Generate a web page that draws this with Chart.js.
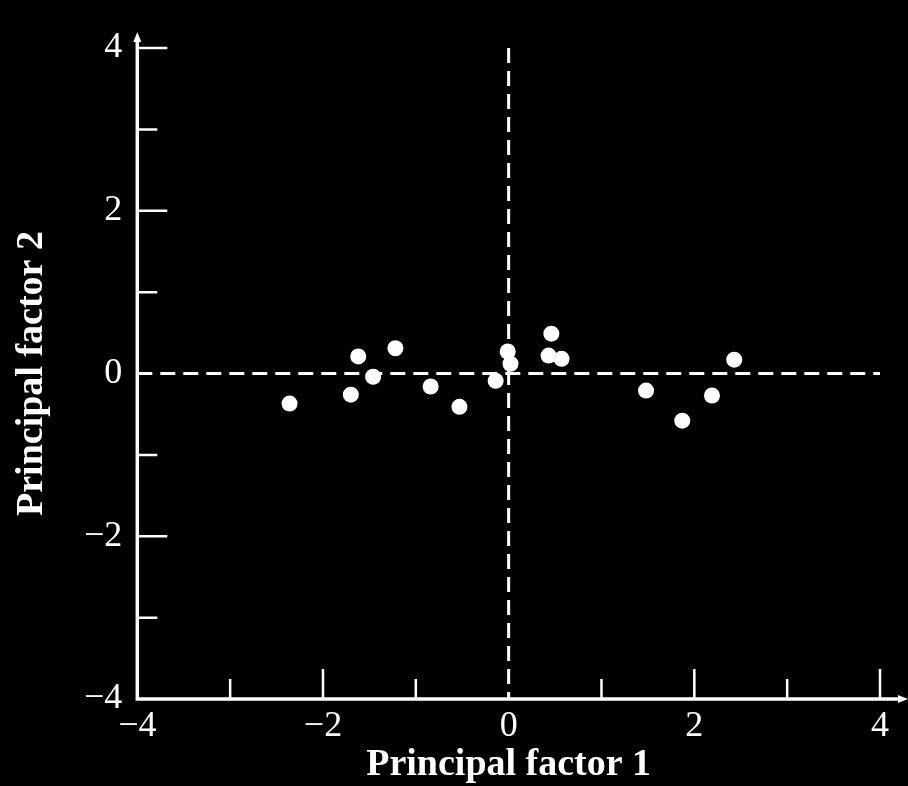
<!doctype html>
<html lang="en">
  <head>
    <meta charset="utf-8">
    <title>Principal factor plot</title>
    <style>
      * { margin: 0; padding: 0; }
      body { background: #000; }
      .chartBox { width: 908px; height: 786px; }
    </style>
  </head>
  <body>
    <div class="chartBox">
      <canvas id="myChart"></canvas>
    </div>

    <script src="https://cdn.jsdelivr.net/npm/chart.js"></script>
    <script>
    // data
    const factor1 = [-2.36, -1.70, -1.62, -1.46, -1.22, -0.84, -0.53, -0.14, -0.01, 0.02, 0.46, 0.43, 0.57, 1.48, 1.87, 2.19, 2.43];
    const factor2 = [-0.37, -0.26, 0.21, -0.04, 0.31, -0.16, -0.41, -0.09, 0.27, 0.12, 0.49, 0.22, 0.18, -0.21, -0.58, -0.27, 0.17];
    const axisMin = -4;
    const axisMax = 4;
    const labelTicks = [-4, -2, 0, 2, 4];

    const points = factor1.map((v, i) => ({ x: v, y: factor2[i] }));

    const serif = "'Liberation Serif', 'DejaVu Serif', serif";

    const tickLabel = (value) => labelTicks.includes(value) ? String(value).replace('-', '\u2212') : '';

    // axes with inward ticks, arrows and dashed zero lines
    const axesPlugin = {
      id: 'axesPlugin',
      beforeDraw(chart) {
        const { ctx, chartArea: { top, right, bottom, left }, scales: { x, y } } = chart;
        ctx.save();
        ctx.fillStyle = '#000';
        ctx.fillRect(0, 0, chart.width, chart.height);

        // dashed zero lines
        ctx.strokeStyle = '#fff';
        ctx.lineWidth = 3;
        ctx.setLineDash([15, 8]);
        const x0 = x.getPixelForValue(0);
        const y0 = y.getPixelForValue(0);
        ctx.beginPath();
        ctx.moveTo(left, y0);
        ctx.lineTo(right, y0);
        ctx.moveTo(x0, top);
        ctx.lineTo(x0, bottom);
        ctx.stroke();
        ctx.setLineDash([]);

        // axis lines
        ctx.lineWidth = 3.5;
        ctx.beginPath();
        ctx.moveTo(left, top - 8);
        ctx.lineTo(left, bottom);
        ctx.lineTo(right + 22, bottom);
        ctx.stroke();

        // arrow heads
        ctx.fillStyle = '#fff';
        ctx.beginPath();
        ctx.moveTo(left, top - 16);
        ctx.lineTo(left - 4, top - 6);
        ctx.lineTo(left + 4, top - 6);
        ctx.closePath();
        ctx.fill();
        ctx.beginPath();
        ctx.moveTo(right + 28, bottom);
        ctx.lineTo(right + 18, bottom - 4);
        ctx.lineTo(right + 18, bottom + 4);
        ctx.closePath();
        ctx.fill();

        // inward ticks
        ctx.lineWidth = 2.5;
        ctx.beginPath();
        x.ticks.forEach(t => {
          if (t.value === axisMin || t.value === 0) return;
          const len = t.value % 2 === 0 ? 30 : 20;
          const px = x.getPixelForValue(t.value);
          ctx.moveTo(px, bottom);
          ctx.lineTo(px, bottom - len);
        });
        y.ticks.forEach(t => {
          if (t.value === axisMin || t.value === 0) return;
          const len = t.value % 2 === 0 ? 30 : 20;
          const py = y.getPixelForValue(t.value);
          ctx.moveTo(left, py);
          ctx.lineTo(left + len, py);
        });
        ctx.stroke();
        ctx.restore();
      }
    };

    const config = {
      type: 'scatter',
      data: {
        datasets: [{
          label: 'Scores',
          data: points,
          pointRadius: 8,
          pointHoverRadius: 8,
          pointBackgroundColor: '#fff',
          pointBorderWidth: 0
        }]
      },
      options: {
        responsive: true,
        maintainAspectRatio: false,
        animation: false,
        layout: {
          padding: { top: 48, right: 28, bottom: 2, left: 0 }
        },
        plugins: {
          legend: { display: false },
          tooltip: { enabled: false }
        },
        scales: {
          x: {
            min: axisMin,
            max: axisMax,
            grid: { display: false, drawTicks: false },
            border: { display: false },
            ticks: {
              stepSize: 1,
              autoSkip: false,
              maxRotation: 0,
              padding: 10,
              color: '#fff',
              font: { family: serif, size: 36, lineHeight: 1 },
              callback: tickLabel
            },
            title: {
              display: true,
              text: 'Principal factor 1',
              color: '#fff',
              padding: { top: -9, bottom: 0 },
              font: { family: serif, size: 38, weight: 'bold', lineHeight: 1 }
            }
          },
          y: {
            min: axisMin,
            max: axisMax,
            grid: { display: false, drawTicks: false },
            border: { display: false },
            ticks: {
              stepSize: 1,
              autoSkip: false,
              padding: 15,
              color: '#fff',
              font: { family: serif, size: 36, lineHeight: 1 },
              callback: tickLabel
            },
            title: {
              display: true,
              text: 'Principal factor 2',
              color: '#fff',
              padding: { top: 13, bottom: 18 },
              font: { family: serif, size: 38, weight: 'bold', lineHeight: 1 }
            }
          }
        }
      },
      plugins: [axesPlugin]
    };

    const myChart = new Chart(document.getElementById('myChart'), config);
    </script>
  </body>
</html>
